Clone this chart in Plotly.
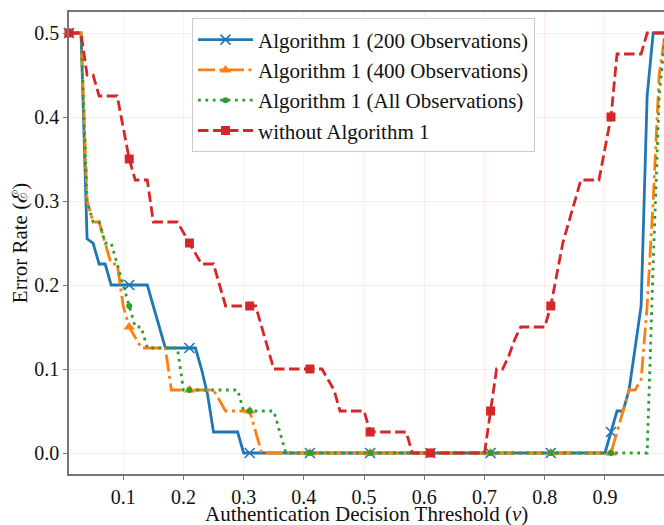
import numpy as np
import plotly.graph_objects as go

# Decision thresholds 0.01 ... 1.00
thresholds = np.round(np.arange(1, 101) * 0.01, 2)

err_200 = [
    0.5, 0.5, 0.5, 0.255, 0.25, 0.225, 0.225, 0.2, 0.2, 0.2,
    0.2, 0.2, 0.2, 0.2, 0.175, 0.15, 0.125, 0.125, 0.125, 0.125,
    0.125, 0.125, 0.1, 0.07, 0.025, 0.025, 0.025, 0.025, 0.025, 0,
    0, 0, 0, 0, 0, 0, 0, 0, 0, 0,
    0, 0, 0, 0, 0, 0, 0, 0, 0, 0,
    0, 0, 0, 0, 0, 0, 0, 0, 0, 0,
    0, 0, 0, 0, 0, 0, 0, 0, 0, 0,
    0, 0, 0, 0, 0, 0, 0, 0, 0, 0,
    0, 0, 0, 0, 0, 0, 0, 0, 0, 0,
    0.025, 0.05, 0.05, 0.075, 0.125, 0.175, 0.425, 0.5, 0.5, 0.5,
]

err_400 = [
    0.5, 0.5, 0.5, 0.3, 0.275, 0.275, 0.25, 0.225, 0.225, 0.175,
    0.15, 0.1375, 0.125, 0.125, 0.125, 0.125, 0.125, 0.075, 0.075, 0.075,
    0.075, 0.075, 0.075, 0.075, 0.075, 0.0625, 0.05, 0.05, 0.05, 0.05,
    0.05, 0.025, 0, 0, 0, 0, 0, 0, 0, 0,
    0, 0, 0, 0, 0, 0, 0, 0, 0, 0,
    0, 0, 0, 0, 0, 0, 0, 0, 0, 0,
    0, 0, 0, 0, 0, 0, 0, 0, 0, 0,
    0, 0, 0, 0, 0, 0, 0, 0, 0, 0,
    0, 0, 0, 0, 0, 0, 0, 0, 0, 0,
    0, 0.025, 0.05, 0.075, 0.075, 0.0875, 0.175, 0.3, 0.45, 0.5,
]

err_all = [
    0.5, 0.5, 0.5, 0.3, 0.275, 0.275, 0.25, 0.25, 0.225, 0.2,
    0.175, 0.15, 0.15, 0.125, 0.125, 0.125, 0.125, 0.125, 0.125, 0.075,
    0.075, 0.075, 0.075, 0.075, 0.075, 0.075, 0.075, 0.075, 0.075, 0.05,
    0.05, 0.05, 0.05, 0.05, 0.05, 0.025, 0, 0, 0, 0,
    0, 0, 0, 0, 0, 0, 0, 0, 0, 0,
    0, 0, 0, 0, 0, 0, 0, 0, 0, 0,
    0, 0, 0, 0, 0, 0, 0, 0, 0, 0,
    0, 0, 0, 0, 0, 0, 0, 0, 0, 0,
    0, 0, 0, 0, 0, 0, 0, 0, 0, 0,
    0, 0, 0, 0, 0, 0, 0, 0.225, 0.425, 0.5,
]

err_without = [
    0.5, 0.5, 0.5, 0.45, 0.45, 0.425, 0.425, 0.425, 0.425, 0.3875,
    0.35, 0.325, 0.325, 0.325, 0.275, 0.275, 0.275, 0.275, 0.275, 0.2625,
    0.25, 0.2375, 0.225, 0.225, 0.225, 0.2, 0.175, 0.175, 0.175, 0.175,
    0.175, 0.175, 0.15, 0.125, 0.1, 0.1, 0.1, 0.1, 0.1, 0.1,
    0.1, 0.1, 0.1, 0.0875, 0.075, 0.05, 0.05, 0.05, 0.05, 0.05,
    0.025, 0.025, 0.025, 0.025, 0.025, 0.025, 0.025, 0, 0, 0,
    0, 0, 0, 0, 0, 0, 0, 0, 0, 0,
    0.05, 0.1, 0.1, 0.115, 0.135, 0.15, 0.15, 0.15, 0.15, 0.15,
    0.175, 0.2125, 0.25, 0.275, 0.3, 0.325, 0.325, 0.325, 0.325, 0.3625,
    0.4, 0.475, 0.475, 0.475, 0.475, 0.475, 0.5, 0.5, 0.5, 0.5,
]

series_names = [
    "Algorithm 1 (200 Observations)",
    "Algorithm 1 (400 Observations)",
    "Algorithm 1 (All Observations)",
    "without Algorithm 1",
]
x_title = "Authentication Decision Threshold (<i>ν</i>)"
y_title = "Error Rate (ℰ)"
x_ticks = [0.1, 0.2, 0.3, 0.4, 0.5, 0.6, 0.7, 0.8, 0.9]
y_ticks = [0.0, 0.1, 0.2, 0.3, 0.4, 0.5]

LW = 2.8
styles = [
    dict(color="#1f77b4", dash="solid",
         marker=dict(symbol="x-thin", size=10, line=dict(width=1.6, color="#1f77b4"), color="#1f77b4")),
    dict(color="#ff7f0e", dash="17px,4.5px,3px,4.5px",
         marker=dict(symbol="triangle-up", size=10, color="#ff7f0e", line=dict(width=0))),
    dict(color="#2ca02c", dash="2.8px,4.6px",
         marker=dict(symbol="circle", size=6, color="#2ca02c", line=dict(width=0))),
    dict(color="#d62728", dash="10.5px,4.5px",
         marker=dict(symbol="square", size=9, color="#d62728", line=dict(width=0))),
]

fig = go.Figure()
all_series = [err_200, err_400, err_all, err_without]
for name, ys, st in zip(series_names, all_series, styles):
    ys = np.array(ys, dtype=float)
    fig.add_trace(go.Scatter(
        x=thresholds, y=ys, mode="lines", showlegend=False, hoverinfo="skip",
        line=dict(color=st["color"], width=LW, dash=st["dash"], shape="linear"),
    ))
    fig.add_trace(go.Scatter(
        x=thresholds[::10], y=ys[::10], mode="markers", showlegend=False,
        marker=st["marker"], cliponaxis=False,
    ))
# legend entries
for name, st in zip(series_names, styles):
    fig.add_trace(go.Scatter(
        x=[None], y=[None], mode="lines+markers", name=name,
        line=dict(color=st["color"], width=LW, dash=st["dash"]),
        marker=st["marker"],
    ))

serif = "Liberation Serif, Times New Roman, DejaVu Serif, serif"
grid_c = "rgba(255,150,150,0.18)"
spine_c = "#777777"

fig.update_layout(
    width=664, height=525,
    margin=dict(l=69, r=0, t=12, b=51),
    paper_bgcolor="white", plot_bgcolor="white",
    font=dict(family=serif, size=20, color="#111111"),
    showlegend=True,
    legend=dict(
        x=0.2067, y=0.986, xanchor="left", yanchor="top",
        bgcolor="rgba(255,255,255,0.95)", bordercolor="#cccccc", borderwidth=1,
        font=dict(family=serif, size=21, color="#111111"),
        itemwidth=55, tracegroupgap=0,
    ),
    xaxis=dict(
        range=[0.01, 0.998], tickvals=x_ticks, ticktext=[f"{v:.1f}" for v in x_ticks],
        showgrid=True, gridcolor=grid_c, gridwidth=1, zeroline=False,
        showline=True, linecolor=spine_c, linewidth=1.6, mirror=True,
        ticks="outside", ticklen=4, tickcolor=spine_c, tickwidth=1.2,
        tickfont=dict(size=20), automargin=False,
    ),
    yaxis=dict(
        range=[-0.025, 0.525], tickvals=y_ticks, ticktext=[f"{v:.1f}" for v in y_ticks],
        showgrid=True, gridcolor=grid_c, gridwidth=1, zeroline=False,
        showline=True, linecolor=spine_c, linewidth=1.6, mirror=False,
        ticks="outside", ticklen=4, tickcolor=spine_c, tickwidth=1.2,
        tickfont=dict(size=20), automargin=False,
        title=dict(text=y_title, font=dict(size=21), standoff=1),
    ),
    annotations=[dict(
        text=x_title, xref="paper", yref="paper", x=0.5, y=0,
        xanchor="center", yanchor="middle", yshift=-39.5, showarrow=False,
        font=dict(family=serif, size=21, color="#111111"),
    )],
)

fig.write_html(
    "out.html",
    config={"displayModeBar": False},
    post_script="document.body.style.margin='0';document.body.style.overflow='hidden';",
)
